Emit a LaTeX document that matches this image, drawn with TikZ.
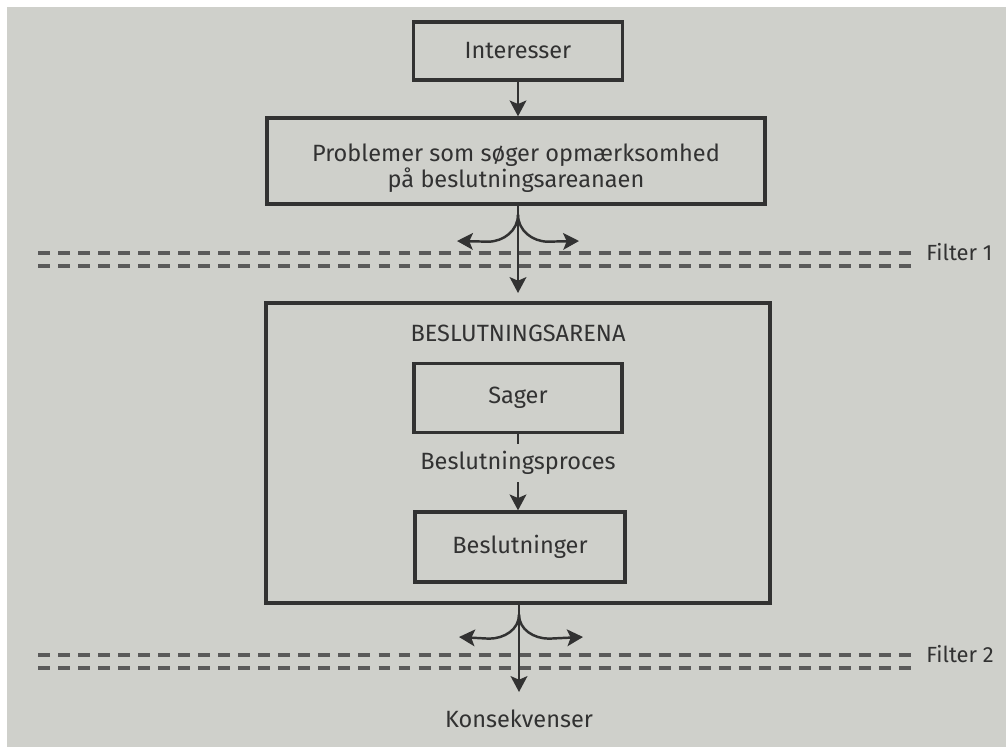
\documentclass[tikz,border=0pt]{standalone}
\usepackage{fontspec}
\setmainfont{Fira Sans}
\usepackage{tikz}
\usetikzlibrary{positioning,arrows.meta}
\definecolor{paper}{RGB}{207,208,203}
\definecolor{ink}{RGB}{50,50,50}
\definecolor{dashgray}{RGB}{90,90,90}

\begin{document}
\begin{tikzpicture}[
    x=0.02cm, y=-0.02cm,
    font=\fontsize{13.4}{14.8}\selectfont,
    box/.style={rectangle, draw=ink, line width=1.9pt, align=center,
                text=ink, inner sep=0pt},
    arrow/.style={-{Stealth[length=9pt,width=9.5pt,inset=2pt]}, draw=ink,
                  line width=1.4pt},
    filterline/.style={draw=dashgray, line width=1.8pt,
                       dash pattern=on 6.8pt off 4.6pt},
    tag/.style={text=ink, inner sep=0pt}
  ]
  % ----- page -----
  \fill[white] (0,0) rectangle (1006,747);
  \fill[paper] (7,7) rectangle (1006,747);
  \useasboundingbox (0,0) rectangle (1006,747);

  % ----- top: interests and problems -----
  \node[box, minimum width=4.18cm, minimum height=1.16cm] (inter) at (518,51) {Interesser};
  \node[box, minimum width=9.96cm, minimum height=1.72cm, text height=33pt] (prob) at (516,161)
       {Problemer som søger opmærksomhed\\på beslutningsareanaen};
  \draw[arrow] (inter) -- (inter |- prob.north);

  % ----- filter 1 -----
  \coordinate (f1tip) at (518,293);
  \coordinate (f1l) at (457,241);
  \coordinate (f1r) at (579,241);
  \draw[filterline] (38,253) -- (918,253);
  \draw[filterline] (38,266) -- (918,266);
  \node[tag, anchor=west, font=\fontsize{12.5}{14}\selectfont] (filt1) at (926,252) {Filter 1};
  \draw[arrow] (prob.south -| f1tip) -- (f1tip);
  \draw[arrow] (prob.south -| f1tip) ++(0,9) to[out=-90,in=0] ++(-30,27) -- (f1l);
  \draw[arrow] (prob.south -| f1tip) ++(0,9) to[out=-90,in=180] ++(30,27) -- (f1r);

  % ----- decision arena -----
  \node[box, minimum width=10.08cm, minimum height=6.0cm] (arena) at (518,453) {};
  \node[tag] (title) at (518,333) {BESLUTNINGSARENA};
  \node[box, minimum width=4.16cm, minimum height=1.38cm] (sager) at (518,398) {Sager};
  \node[tag, inner ysep=4pt] (proces) at (518,463) {Beslutningsproces};
  \node[box, minimum width=4.2cm, minimum height=1.4cm] (beslut) at (520,547) {Beslutninger};
  \draw[draw=ink, line width=1.4pt] (sager) -- (proces);
  \draw[arrow] (proces) -- (proces |- beslut.north);

  % ----- filter 2 -----
  \coordinate (f2tip) at (519,692);
  \coordinate (f2l) at (459,637);
  \coordinate (f2r) at (583,637);
  \draw[filterline] (38,655) -- (918,655);
  \draw[filterline] (38,668) -- (918,668);
  \node[tag, anchor=west, font=\fontsize{12.5}{14}\selectfont] (filt2) at (926,654) {Filter 2};
  \draw[arrow] (arena.south -| f2tip) -- (f2tip);
  \draw[arrow] (arena.south -| f2tip) ++(0,10) to[out=-90,in=0] ++(-30,24) -- (f2l);
  \draw[arrow] (arena.south -| f2tip) ++(0,10) to[out=-90,in=180] ++(30,24) -- (f2r);
  \node[tag, below=10pt of f2tip] (kons) {Konsekvenser};
\end{tikzpicture}
\end{document}
